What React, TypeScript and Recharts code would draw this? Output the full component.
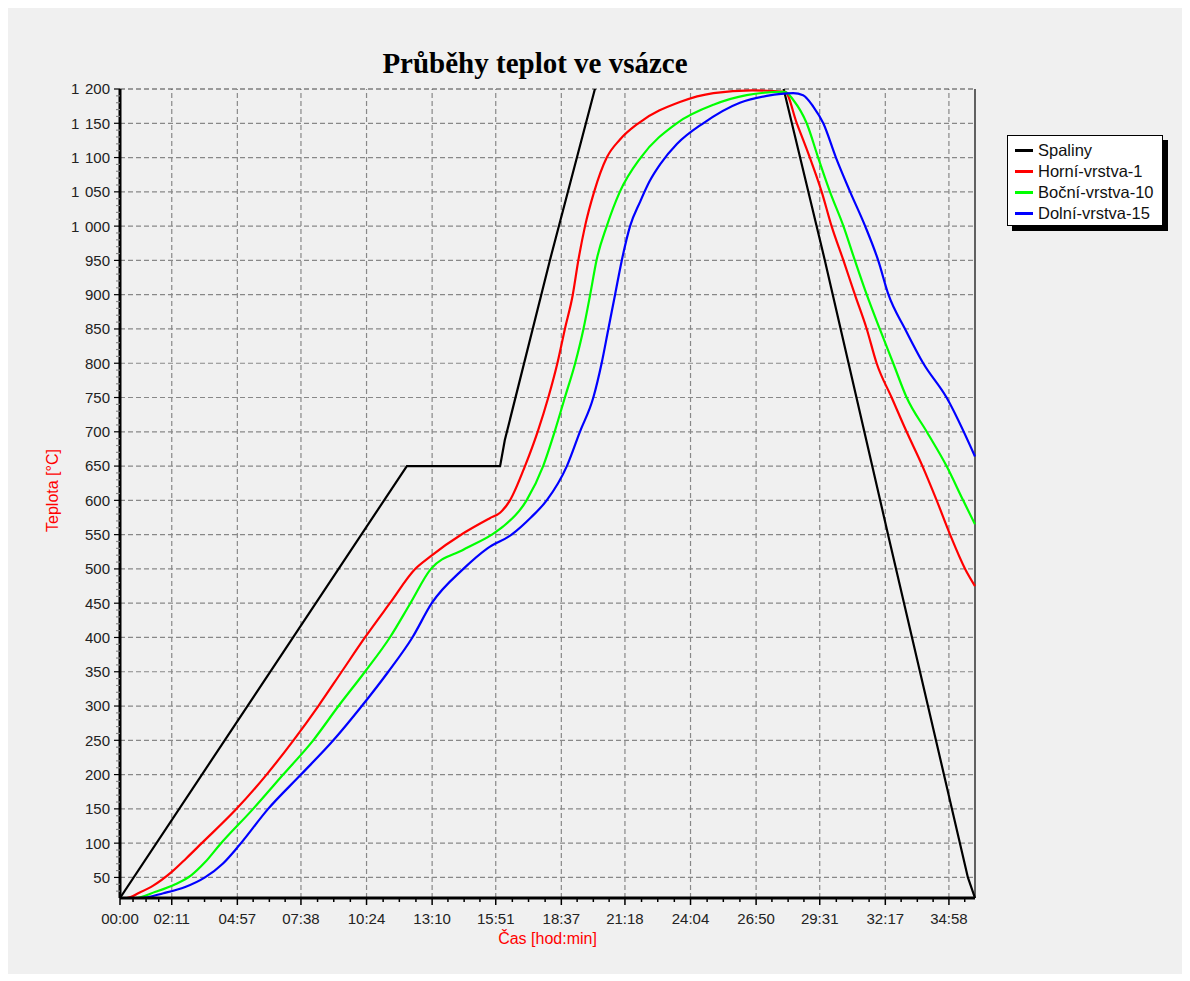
import React from 'react';
import { LineChart, Line, XAxis, YAxis, Legend, ReferenceLine } from 'recharts';

// time axis in minutes, labels are hod:min
const X_MAX = 2164;
const xTicks = [0, 131, 297, 458, 624, 790, 951, 1117, 1278, 1444, 1610, 1771, 1937, 2098];
const yTicks = [50, 100, 150, 200, 250, 300, 350, 400, 450, 500, 550, 600, 650, 700, 750, 800, 850, 900, 950, 1000, 1050, 1100, 1150, 1200];

const spalinyTime = [0, 726, 962, 974, 1088, 1202, 1230, 1655, 1683, 1784, 1944, 2146, 2164];
const spalinyTemp = [20, 650, 650, 688, 950, 1200, 1260, 1260, 1192, 950, 550, 50, 20];

const horniTime = [0, 17, 50, 84, 131, 168, 207, 295, 371, 439, 502, 561, 620, 683, 747, 785, 869, 936, 962, 987, 1025, 1057, 1084, 1107, 1126, 1146, 1160, 1177, 1200, 1232, 1265, 1312, 1417, 1502, 1600, 1683, 1713, 1746, 1776, 1801, 1831, 1860, 1890, 1915, 1953, 1991, 2031, 2067, 2101, 2139, 2164];
const horniTemp = [20, 20, 28, 38, 58, 78, 100, 150, 200, 250, 300, 350, 400, 450, 500, 518, 552, 574, 582, 600, 650, 700, 750, 800, 850, 900, 950, 1000, 1050, 1100, 1126, 1150, 1181, 1194, 1198, 1196, 1150, 1100, 1050, 1000, 950, 900, 850, 800, 750, 700, 650, 600, 550, 500, 475];

const bocniTime = [0, 38, 90, 140, 180, 215, 253, 337, 413, 489, 553, 620, 683, 735, 787, 869, 941, 970, 1029, 1071, 1100, 1126, 1152, 1173, 1190, 1206, 1232, 1265, 1318, 1409, 1502, 1586, 1683, 1704, 1738, 1767, 1797, 1831, 1860, 1890, 1923, 1957, 1991, 2042, 2092, 2134, 2164];
const bocniTemp = [20, 20, 29, 40, 53, 72, 98, 150, 200, 250, 300, 350, 400, 450, 500, 528, 550, 562, 600, 650, 700, 750, 800, 850, 900, 950, 1000, 1050, 1100, 1150, 1177, 1191, 1196, 1184, 1150, 1100, 1050, 1000, 950, 900, 850, 800, 750, 700, 650, 600, 565];

const dolniTime = [0, 51, 110, 165, 215, 260, 299, 375, 458, 540, 612, 679, 740, 789, 869, 930, 991, 1040, 1080, 1131, 1164, 1198, 1219, 1236, 1253, 1270, 1291, 1316, 1340, 1367, 1410, 1476, 1569, 1637, 1704, 1729, 1755, 1780, 1812, 1848, 1886, 1919, 1945, 1987, 2033, 2092, 2164];
const dolniTemp = [20, 20, 27, 36, 50, 70, 95, 150, 200, 250, 300, 350, 400, 450, 500, 530, 550, 575, 600, 650, 700, 750, 800, 850, 900, 950, 1000, 1035, 1065, 1090, 1120, 1150, 1180, 1190, 1194, 1191, 1174, 1150, 1100, 1050, 1000, 950, 900, 850, 800, 750, 664];

const series = [
  { name: 'Spaliny', color: '#000000', time: spalinyTime, temp: spalinyTemp, curve: 'linear' },
  { name: 'Horní-vrstva-1', color: '#ff0000', time: horniTime, temp: horniTemp, curve: 'monotone' },
  { name: 'Boční-vrstva-10', color: '#00ff00', time: bocniTime, temp: bocniTemp, curve: 'monotone' },
  { name: 'Dolní-vrstva-15', color: '#0000ff', time: dolniTime, temp: dolniTemp, curve: 'monotone' },
];

const toPoints = (time: number[], temp: number[]) => time.map((t, i) => ({ t, v: temp[i] }));

// minor ticks: each major interval split in four
const xMinor: number[] = [];
xTicks.forEach((t, i) => {
  const next = xTicks[i + 1];
  const step = next !== undefined ? (next - t) / 4 : (t - xTicks[i - 1]) / 4;
  for (let k = 1; k < 4; k++) {
    const m = Math.round(t + step * k);
    if (m < X_MAX) xMinor.push(m);
  }
});
const yMinor: number[] = [];
for (let v = 30; v < 1200; v += 10) if (v % 50 !== 0) yMinor.push(v);

const xAll = [...xTicks, ...xMinor].sort((a, b) => a - b);
const yAll = [...yTicks, ...yMinor].sort((a, b) => a - b);

const FONT = '"Liberation Sans", Arial, sans-serif';

const fmtTime = (m: number) => {
  const h = Math.floor(m / 60);
  const mm = m % 60;
  return `${String(h).padStart(2, '0')}:${String(mm).padStart(2, '0')}`;
};
const fmtTemp = (v: number) => (v >= 1000 ? `${Math.floor(v / 1000)} ${String(v % 1000).padStart(3, '0')}` : String(v));

const XTick = (props: any) => {
  const { x, y, payload } = props;
  const major = xTicks.includes(payload.value);
  return (
    <g>
      <line x1={x} x2={x} y1={y} y2={y + (major ? 7 : 4)} stroke="#000" strokeWidth={1.5} />
      {major && (
        <text x={x} y={y + 26} textAnchor="middle" fontSize={15} fontFamily={FONT} fill="#222">
          {fmtTime(payload.value)}
        </text>
      )}
    </g>
  );
};

const YTick = (props: any) => {
  const { x, y, payload } = props;
  const major = yTicks.includes(payload.value);
  return (
    <g>
      <line x1={x - (major ? 6 : 4)} x2={x} y1={y} y2={y} stroke={major ? '#000' : '#888'} strokeWidth={1.2} />
      {major && (
        <text x={x - 10} y={y + 5.4} textAnchor="end" fontSize={15} fontFamily={FONT} fill="#222" wordSpacing={1.5}>
          {fmtTemp(payload.value)}
        </text>
      )}
    </g>
  );
};

const LegendBox = () => (
  <div
    style={{
      width: 156,
      height: 91,
      background: '#fff',
      border: '1.5px solid #000',
      boxShadow: '5px 5px 0 #000',
      padding: '4px 0 0 0',
      boxSizing: 'border-box',
      fontFamily: FONT,
      fontSize: 16.5,
    }}
  >
    {series.map((s) => (
      <div key={s.name} style={{ display: 'flex', alignItems: 'center', height: 21 }}>
        <div style={{ width: 18, height: 2.5, background: s.color, marginLeft: 7, marginRight: 5 }} />
        <span style={{ color: '#111' }}>{s.name}</span>
      </div>
    ))}
  </div>
);

export default function App() {
  return (
    <div style={{ position: 'relative', width: 1174, height: 966, background: '#f0f0f0' }}>
      <div
        style={{
          position: 'absolute',
          left: 0,
          top: 41,
          width: 1054,
          textAlign: 'center',
          fontFamily: '"Liberation Serif", "Times New Roman", serif',
          fontWeight: 'bold',
          fontSize: 29,
          lineHeight: '29px',
          color: '#000',
        }}
      >
        Průběhy teplot ve vsázce
      </div>
      <LineChart width={1174} height={966} margin={{ top: 81, right: 207, bottom: 36, left: 32 }}>
        <XAxis
          type="number"
          dataKey="t"
          domain={[0, X_MAX]}
          ticks={xAll}
          interval={0}
          tickSize={0}
          tickMargin={0}
          tick={<XTick />}
          height={40}
          axisLine={{ stroke: '#000', strokeWidth: 3 }}
          allowDuplicatedCategory={false}
          label={{
            content: (p: any) => (
              <text
                x={p.viewBox.x + p.viewBox.width / 2}
                y={p.viewBox.y + 46}
                textAnchor="middle"
                fontSize={16}
                fontFamily={FONT}
                fill="#ff0000"
              >
                Čas [hod:min]
              </text>
            ),
          }}
        />
        <YAxis
          type="number"
          dataKey="v"
          domain={[20, 1200]}
          allowDataOverflow
          ticks={yAll}
          interval={0}
          tickSize={0}
          tickMargin={0}
          tick={<YTick />}
          width={80}
          axisLine={{ stroke: '#000', strokeWidth: 3 }}
          label={{
            content: (p: any) => {
              const cx = p.viewBox.x + 12;
              const cy = p.viewBox.y + p.viewBox.height / 2 - 3;
              return (
                <text
                  x={cx}
                  y={cy}
                  transform={`rotate(-90, ${cx}, ${cy})`}
                  textAnchor="middle"
                  dominantBaseline="central"
                  fontSize={16}
                  fontFamily={FONT}
                  fill="#ff0000"
                >
                  Teplota [°C]
                </text>
              );
            },
          }}
        />
        {xTicks.slice(1).map((t) => (
          <ReferenceLine key={`gx-${t}`} x={t} stroke="#888" strokeDasharray="5 3" strokeWidth={1.2} />
        ))}
        {yTicks.map((v) => (
          <ReferenceLine
            key={`gy-${v}`}
            y={v}
            stroke={v === 1200 ? '#444' : '#888'}
            strokeDasharray="5 3"
            strokeWidth={1.2}
          />
        ))}
        <ReferenceLine x={X_MAX} stroke="#000" strokeWidth={1.2} />
        {series.map((s) => (
          <Line
            key={s.name}
            name={s.name}
            data={toPoints(s.time, s.temp)}
            dataKey="v"
            type={s.curve as any}
            stroke={s.color}
            strokeWidth={2.2}
            dot={false}
            activeDot={false}
            isAnimationActive={false}
          />
        ))}
        <Legend
          layout="vertical"
          align="center"
          verticalAlign="middle"
          content={() => <LegendBox />}
          wrapperStyle={{ left: 999, top: 127, width: 'auto', height: 'auto' }}
        />
      </LineChart>
    </div>
  );
}
